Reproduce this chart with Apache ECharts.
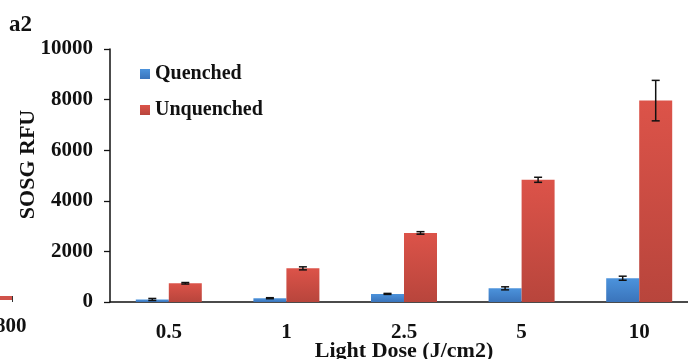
<!DOCTYPE html>
<html>
<head>
<meta charset="utf-8" />
<title>SOSG RFU</title>
<style>
  html, body { margin: 0; padding: 0; background: #fff; }
  #main { width: 688px; height: 359px; }
</style>
</head>
<body>
<div id="main"></div>
<script src="https://cdn.jsdelivr.net/npm/echarts@6/dist/echarts.min.js"></script>
<script>
var categories = ['0.5', '1', '2.5', '5', '10'];
var quenched = [100, 150, 320, 540, 940];
var quenchedErr = [40, 20, 20, 60, 80];
var unquenched = [740, 1330, 2730, 4830, 7960];
var unquenchedErr = [30, 60, 50, 100, 800];
var yTicks = [0, 2000, 4000, 6000, 8000, 10000];

var font = '"Liberation Serif", "Times New Roman", serif';
var BW = 33;

function errSeries(vals, errs, dx) {
  return {
    type: 'custom',
    z: 10,
    data: vals.map(function (v, i) { return [i, v, errs[i]]; }),
    renderItem: function (params, api) {
      var i = api.value(0), v = api.value(1), e = api.value(2);
      var hi = api.coord([i, v + e]);
      var lo = api.coord([i, v - e]);
      var x = hi[0] + dx;
      var st = { stroke: '#111', lineWidth: 1.5 };
      return {
        type: 'group',
        children: [
          { type: 'line', shape: { x1: x, y1: hi[1], x2: x, y2: lo[1] }, style: st },
          { type: 'line', shape: { x1: x - 4, y1: hi[1], x2: x + 4, y2: hi[1] }, style: st },
          { type: 'line', shape: { x1: x - 4, y1: lo[1], x2: x + 4, y2: lo[1] }, style: st }
        ]
      };
    }
  };
}

var chart = echarts.init(document.getElementById('main'));
chart.setOption({
  animation: false,
  textStyle: { fontFamily: font },
  grid: { left: 110, top: 49, bottom: 57, width: 588, containLabel: false, outerBoundsMode: 'none' },
  legend: {
    orient: 'vertical',
    left: 135,
    top: 59,
    itemGap: 16,
    icon: 'rect',
    itemWidth: 10,
    itemHeight: 10,
    textStyle: { fontFamily: font, fontWeight: 'bold', fontSize: 20, color: '#111' },
    data: ['Quenched', 'Unquenched']
  },
  xAxis: {
    type: 'category',
    data: categories,
    name: 'Light Dose (J/cm2)',
    nameLocation: 'middle',
    nameGap: 38,
    nameMoveOverlap: false,
    nameTextStyle: { fontFamily: font, fontWeight: 'bold', fontSize: 22, color: '#111' },
    axisLine: { lineStyle: { color: '#111', width: 1.5 } },
    axisTick: { show: false },
    axisLabel: { fontFamily: font, fontWeight: 'bold', fontSize: 21, color: '#111', margin: 20 }
  },
  yAxis: {
    type: 'value',
    min: yTicks[0],
    max: yTicks[yTicks.length - 1],
    interval: 2000,
    name: 'SOSG RFU',
    nameLocation: 'middle',
    nameGap: 71,
    nameMoveOverlap: false,
    nameTextStyle: { fontFamily: font, fontWeight: 'bold', fontSize: 22, color: '#111', padding: [0, 0, 0, 22] },
    axisLine: { show: true, lineStyle: { color: '#111', width: 1.5 } },
    axisTick: { show: true, length: 6, lineStyle: { color: '#111', width: 1.3 } },
    axisLabel: {
      fontFamily: font, fontWeight: 'bold', fontSize: 21, color: '#111', margin: 17,
      formatter: function (v) { return String(v); }
    },
    splitLine: { show: false }
  },
  series: [
    {
      name: 'Quenched',
      type: 'bar',
      barWidth: BW,
      barGap: '0%',
      data: quenched,
      itemStyle: {
        color: new echarts.graphic.LinearGradient(0, 0, 0, 1, [
          { offset: 0, color: '#4c93dc' },
          { offset: 1, color: '#3a74bb' }
        ])
      }
    },
    {
      name: 'Unquenched',
      type: 'bar',
      barWidth: BW,
      barGap: '0%',
      data: unquenched,
      itemStyle: {
        color: new echarts.graphic.LinearGradient(0, 0, 0, 1, [
          { offset: 0, color: '#dc5349' },
          { offset: 1, color: '#b8453c' }
        ])
      }
    },
    errSeries(quenched, quenchedErr, -BW / 2),
    errSeries(unquenched, unquenchedErr, BW / 2)
  ],
  graphic: [
    { type: 'text', left: 9, top: 14, style: { text: 'a2', font: 'bold 23px ' + font, fill: '#111' } },
    { type: 'text', left: -5, top: 316, style: { text: '800', font: 'bold 21px ' + font, fill: '#111' } },
    { type: 'rect', shape: { x: 0, y: 296, width: 12, height: 4 }, style: { fill: '#d0524a' } },
    { type: 'line', shape: { x1: 12.5, y1: 296, x2: 12.5, y2: 302 }, style: { stroke: '#333', lineWidth: 1 } }
  ]
});
</script>
</body>
</html>
